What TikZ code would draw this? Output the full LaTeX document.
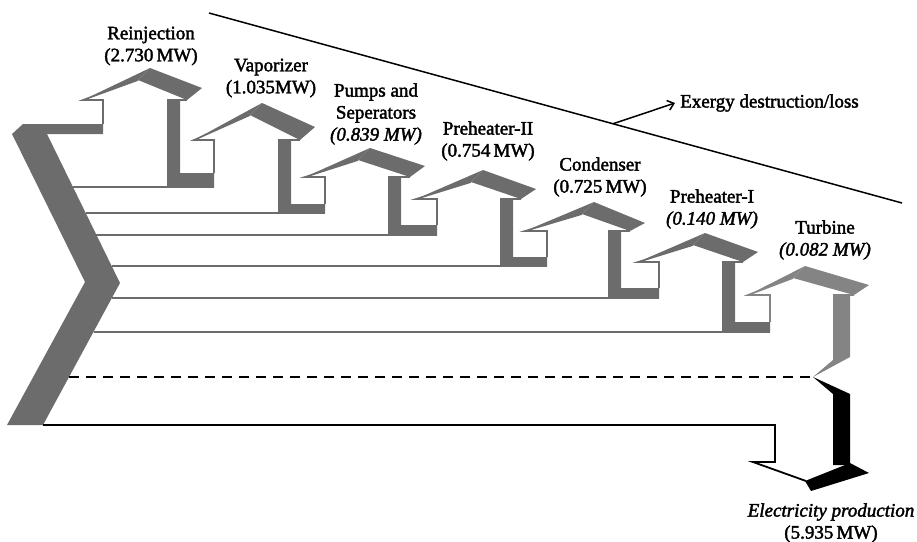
\documentclass[tikz,border=0pt]{standalone}
\usepackage{fontspec}
\setmainfont{Liberation Serif}
\newfontfamily\lblfont[FakeBold=2]{Liberation Serif}
\usepackage{tikz}
\usetikzlibrary{arrows.meta,calc}

\definecolor{flowgray}{RGB}{108,108,108}
\definecolor{turbgray}{RGB}{132,132,132}

\begin{document}
\begin{tikzpicture}[x=1pt, y=-1pt, >={Straight Barb[length=6pt,width=10pt]}]
\tikzstyle{rim}=[draw=flowgray, line width=1.6pt]
\tikzstyle{lbl}=[font=\lblfont\fontsize{19}{22}\selectfont, align=center, inner sep=0pt]
\useasboundingbox (0,0) rectangle (917,541);

% inlet chevron
\fill[flowgray] (12,134) -- (23,124) -- (103,124) -- (103,134) -- (47,134) -- (120,283)
  -- (43,425) -- (7,425) -- (85,282) -- cycle;

% destruction branches
\foreach \xl/\ys/\yb/\tx/\px/\py/\rx/\ry/\sx/\bt/\ly/\nx/\cx in {
  103/124/100/83/150/68/202/88/167/173/187/214/73,
  214/173/140/194/262/103/315/127/278/204/213/325/86,
  325/204/177/305/370/148/425/166/388/225/235/437/96,
  437/225/199/416/483/170/536/189/500/257/266/547/112,
  547/257/231/525/594/202/645/223/608/288/298/659/112,
  659/288/262/638/705/233/758/252/722/322/332/770/94}{
  \draw[rim] (\cx,\ly) -- (\nx,\ly);
  \draw[rim] (\xl,\ys) -- (\xl,\yb) -- (\tx,\yb) -- (\px-12,\py+12);
  \draw[rim] (\sx,\yb) -- (\rx-15,\yb);
  \fill[flowgray] (\tx,\yb) -- (\px,\py) -- (\px-12,\py+12) -- cycle;
  \fill[flowgray] (\px-12,\py+12) -- (\px,\py) -- (\rx,\ry) -- (\rx-15,\yb) -- cycle;
  \fill[flowgray] (\sx,\yb) -- (\sx+13,\yb) -- (\sx+13,\bt) -- (\nx,\bt) -- (\nx,\ly)
    -- (\sx,\ly) -- cycle;
}

% turbine
\draw[rim, draw=turbgray] (770,322) -- (770,295) -- (748,295) -- (793,278);
\draw[rim, draw=turbgray] (833,295) -- (854,295);
\fill[turbgray] (748,295) -- (805,266) -- (793,278) -- cycle;
\fill[turbgray] (793,278) -- (805,266) -- (869,285) -- (854,295) -- cycle;
\fill[turbgray] (833,295) -- (850,295) -- (850,357) -- (813,377) -- (833,360) -- cycle;

% work output
\draw[line width=2.2pt, dash pattern=on 10pt off 7pt] (69,377) -- (813,377);
\draw[line width=1.8pt] (43,425) -- (775,425) -- (775,462) -- (753,462) -- (806,481);
\fill[black] (813,377) -- (850,394) -- (850,465) -- (833,465) -- (833,394) -- cycle;
\fill[black] (805,481) -- (850,463) -- (869,473) -- (811,491) -- cycle;

% labels
\node[lbl] (reinj) at (151,46) {Reinjection\\(2.730\,MW)};
\node[lbl] (vapor) at (271,78) {Vaporizer\\(1.035MW)};
\node[lbl] (pumps) at (376,114) {Pumps and\\Seperators\\\textit{(0.839 MW)}};
\node[lbl] (pheat2) at (488,141) {Preheater-II\\(0.754\,MW)};
\node[lbl] (cond) at (600,177) {Condenser\\(0.725\,MW)};
\node[lbl] (pheat1) at (712,209) {Preheater-I\\\textit{(0.140 MW)}};
\node[lbl] (turb) at (825,240) {Turbine\\\textit{(0.082 MW)}};
\node[lbl] (elec) at (831,523) {\textit{Electricity production}\\(5.935\,MW)};
\node[lbl, anchor=west] (loss) at (680,103) {Exergy destruction/loss};

% loss boundary
\coordinate (lossA) at (209,13);
\coordinate (lossB) at (902,203);
\coordinate (lossmid) at ($(lossA)!0.583!(lossB)$);
\draw[line width=1.5pt] (lossA) -- (lossB);
\draw[->, line width=1.5pt] (lossmid) -- ([xshift=-5pt]loss.west);
\end{tikzpicture}
\end{document}
